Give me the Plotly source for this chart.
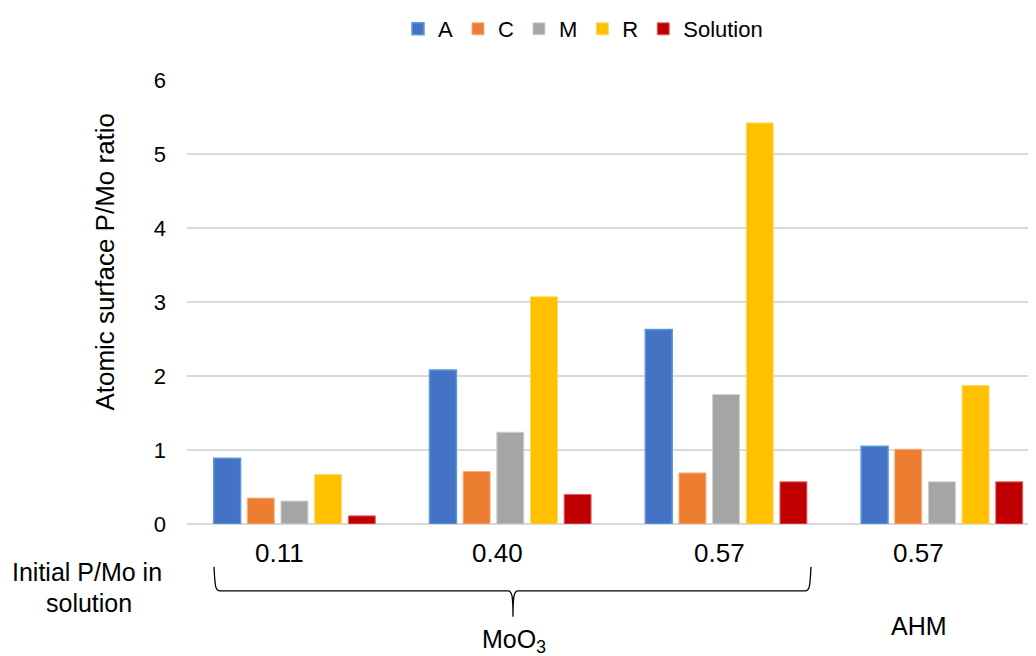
import plotly.graph_objects as go

# categories (one per group of bars) and the labels written under them
groups = ["MoO3 0.11", "MoO3 0.40", "MoO3 0.57", "AHM 0.57"]
tick_labels = ["0.11", "0.40", "0.57", "0.57"]
label_shift = [-15, -13, -7, -23]  # labels sit a bit left of the group centres

# atomic surface P/Mo ratio per series
a_vals = [0.89, 2.08, 2.63, 1.05]
c_vals = [0.35, 0.71, 0.69, 1.01]
m_vals = [0.31, 1.24, 1.75, 0.57]
r_vals = [0.67, 3.07, 5.42, 1.87]
sol_vals = [0.11, 0.40, 0.57, 0.57]

series = [
    ("A", a_vals, "#4472C4", "#5B9BD5", 1.5),
    ("C", c_vals, "#ED7D31", "#F4B183", 1),
    ("M", m_vals, "#A5A5A5", "#D0D0D0", 1),
    ("R", r_vals, "#FFC000", "#FFD966", 1),
    ("Solution", sol_vals, "#C00000", "#E06666", 1),
]

O = 8  # page body margin of the html
W, H = 1036 - O, 656 - O
L, T = 187 - O, 79 - O
R, B = 0, H - (524 - O)
pw, ph = W - L - R, H - T - B


def px(x):
    # screen pixel x -> paper x
    return (x - O - L) / pw


def py(y):
    # screen pixel y -> paper y
    return (H - B - (y - O)) / ph


fig = go.Figure()
for name, vals, color, edge, lw in series:
    fig.add_trace(go.Bar(
        x=groups, y=vals, name=name,
        marker=dict(color=color, line=dict(color=edge, width=lw)),
    ))

font = "Liberation Sans, Arial, sans-serif"

fig.update_layout(
    width=W, height=H,
    margin=dict(l=L, r=R, t=T, b=B),
    plot_bgcolor="white", paper_bgcolor="white",
    font=dict(family=font, color="#000000", size=22),
    barmode="group", bargap=0.22, bargroupgap=0.2,
    showlegend=True,
    legend=dict(orientation="h", x=px(583), xanchor="center", y=py(28), yanchor="middle",
                font=dict(size=22), itemwidth=30, traceorder="normal"),
    xaxis=dict(categoryorder="array", categoryarray=groups,
               range=[-0.498, 3.436], showgrid=False, showline=False, ticks="",
               showticklabels=False),
    yaxis=dict(range=[0, 6], dtick=1, showgrid=True, gridcolor="#D9D9D9", gridwidth=1.5,
               zeroline=True, zerolinecolor="#D9D9D9", zerolinewidth=1.5,
               showline=False, ticks="", tickfont=dict(size=22), ticklabelstandoff=20),
)

# y axis title, sits above the middle of the plot in the original
fig.add_annotation(text="Atomic surface P/Mo ratio", x=px(105), y=py(261),
                   xref="paper", yref="paper", textangle=-90, showarrow=False,
                   xanchor="center", yanchor="middle", font=dict(size=26))

# category labels under each group
for g, lab, dx in zip(groups, tick_labels, label_shift):
    fig.add_annotation(text=lab, x=g, xref="x", y=py(553), yref="paper", xshift=dx,
                       showarrow=False, xanchor="center", yanchor="middle",
                       font=dict(size=26))

annos = [
    ("Initial P/Mo in", 87, 572, 25),
    ("solution", 89, 603, 25),
    ("AHM", 919, 626, 25),
]
for text, x, y, size in annos:
    fig.add_annotation(text=text, x=px(x), y=py(y), xref="paper", yref="paper",
                       showarrow=False, xanchor="center", yanchor="middle",
                       font=dict(size=size))

fig.add_annotation(text="MoO<sub>3</sub>", x=px(514), y=py(659), xref="paper", yref="paper",
                   showarrow=False, xanchor="center", yanchor="bottom",
                   font=dict(size=25))

# brace under the MoO3 groups
brace = (
    f"M {px(214)},{py(567)} C {px(215)},{py(585)} {px(215)},{py(591)} {px(220)},{py(591)} "
    f"L {px(508)},{py(591)} C {px(512)},{py(591)} {px(513)},{py(596)} {px(513)},{py(617)} "
    f"C {px(513)},{py(596)} {px(514)},{py(591)} {px(518)},{py(591)} "
    f"L {px(805)},{py(591)} C {px(810)},{py(591)} {px(810)},{py(585)} {px(811)},{py(567)}"
)
fig.add_shape(type="path", path=brace, xref="paper", yref="paper",
              line=dict(color="#000000", width=1.3))

fig.write_html("out.html")
